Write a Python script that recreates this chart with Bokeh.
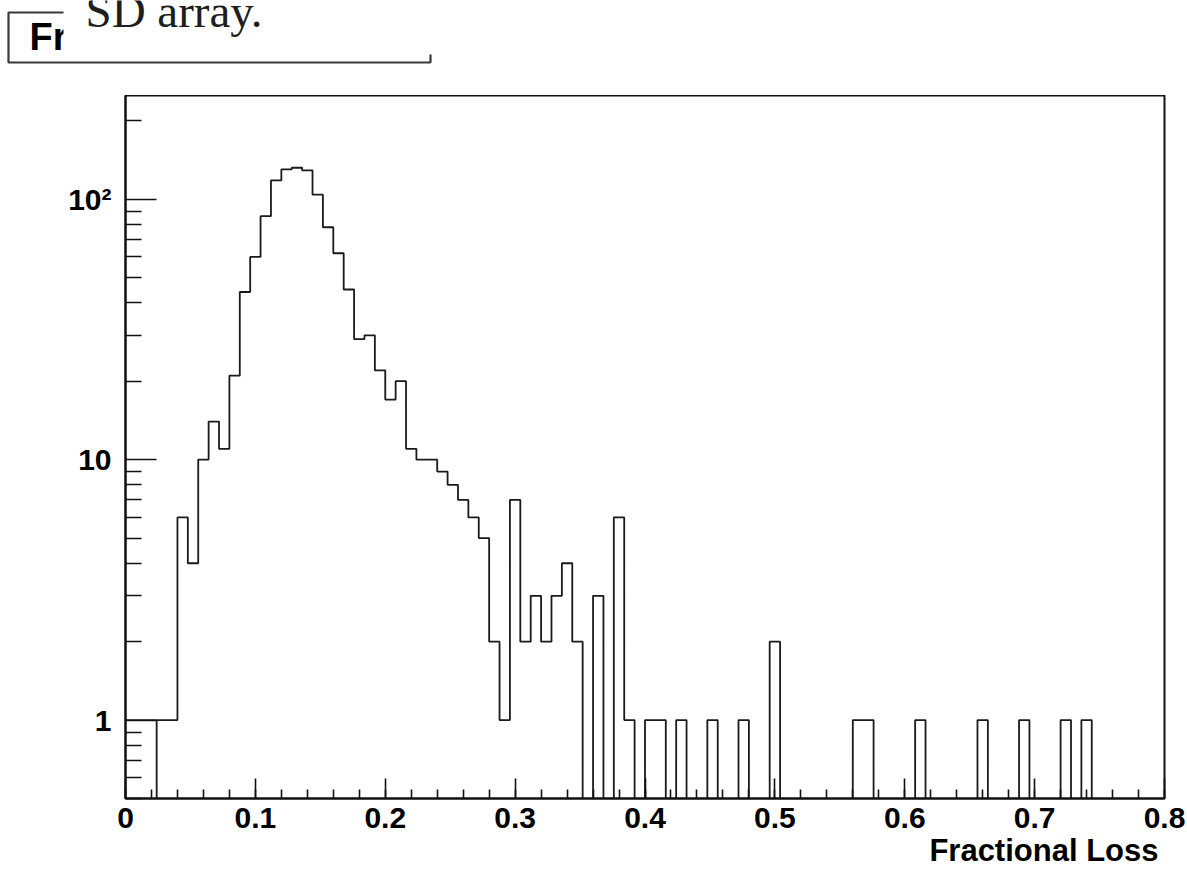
import numpy as np
from bokeh.plotting import figure
from bokeh.models import Range1d, FixedTicker, Title
from bokeh.embed import file_html
from bokeh.resources import INLINE
from bokeh.core.properties import value

# ---------------- data ----------------
bin_lo = 0.0
bin_hi = 0.8
n_bins = 100
counts = [
    1, 1, 1, 1, 1, 6, 4, 10, 14, 11,
    21, 44, 60, 86, 118, 130, 132, 129, 104, 78,
    62, 45, 29, 30, 22, 17, 20, 11, 10, 10,
    9, 8, 7, 6, 5, 2, 1, 7, 2, 3,
    2, 3, 4, 2, 0, 3, 0, 6, 1, 0,
    1, 1, 0, 1, 0, 0, 1, 0, 0, 1,
    0, 0, 2, 0, 0, 0, 0, 0, 0, 0,
    1, 1, 0, 0, 0, 0, 1, 0, 0, 0,
    0, 0, 1, 0, 0, 0, 1, 0, 0, 0,
    1, 0, 1, 0, 0, 0, 0, 0, 0, 0,
]
drop_edges = [0.024]
x_ticks = [0.0, 0.1, 0.2, 0.3, 0.4, 0.5, 0.6, 0.7, 0.8]
x_tick_labels = ["0", "0.1", "0.2", "0.3", "0.4", "0.5", "0.6", "0.7", "0.8"]
y_ticks = [1, 10, 100]
y_tick_labels = ["1", "10", "10²"]
x_title = "Fractional Loss"
header_title = "Fr"
overlay_text = "SD array."

# ---------------- layout ----------------
W, H = 1187, 871
HEAD_H = 95
MAIN_H = H - HEAD_H
BORDER_L, BORDER_R, BORDER_B = 125, 23, 73
Y_MIN, Y_MAX = 0.5, 250.0
FONT = "Liberation Sans"
INK = "#111111"

edges = np.linspace(bin_lo, bin_hi, n_bins + 1)
cnt = np.array(counts, dtype=float)
floor_val = Y_MIN * 0.5
plot_y = np.where(cnt > 0, cnt, floor_val)
step_x = np.append(edges[:-1], edges[-1])
step_y = np.append(plot_y, plot_y[-1])

p = figure(width=W, height=MAIN_H, title=None,
           x_range=Range1d(bin_lo, bin_hi), y_range=Range1d(Y_MIN, Y_MAX),
           y_axis_type="log", output_backend="svg", toolbar_location=None,
           min_border_left=BORDER_L, min_border_right=BORDER_R,
           min_border_top=0, min_border_bottom=BORDER_B)
p.grid.visible = False
p.outline_line_color = INK
p.outline_line_width = 2
p.background_fill_color = "white"
p.border_fill_color = "white"

p.step(step_x, step_y, mode="after", line_color="#1a1a1a", line_width=1.8)
drop_vals = [plot_y[int(round((d - bin_lo) / (edges[1] - edges[0])))] for d in drop_edges]
p.segment(x0=drop_edges, y0=[floor_val] * len(drop_edges), x1=drop_edges, y1=drop_vals,
          line_color="#1a1a1a", line_width=1.8)

# x axis
minor_x = [round(0.02 * i, 4) for i in range(41)]
p.xaxis.ticker = FixedTicker(ticks=x_ticks, minor_ticks=minor_x)
p.xaxis.major_label_overrides = {t: l for t, l in zip(x_ticks, x_tick_labels)}
p.xaxis.major_tick_in = 20
p.xaxis.major_tick_out = 0
p.xaxis.minor_tick_in = 9
p.xaxis.minor_tick_out = 0
p.xaxis.major_label_standoff = 9

# y axis
minor_y = []
for dec in [0.1, 1, 10, 100]:
    for m in range(2, 10):
        minor_y.append(round(dec * m, 4))
p.yaxis.ticker = FixedTicker(ticks=y_ticks, minor_ticks=minor_y)
p.yaxis.major_label_overrides = {t: l for t, l in zip(y_ticks, y_tick_labels)}
p.yaxis.major_tick_in = 31
p.yaxis.major_tick_out = 0
p.yaxis.minor_tick_in = 16
p.yaxis.minor_tick_out = 0
p.yaxis.major_label_standoff = 14

for ax in (p.xaxis, p.yaxis):
    ax.axis_line_color = INK
    ax.axis_line_width = 2
    ax.major_tick_line_color = INK
    ax.major_tick_line_width = 1.6
    ax.minor_tick_line_color = INK
    ax.minor_tick_line_width = 1.6
    ax.major_label_text_font = FONT
    ax.major_label_text_font_style = "bold"
    ax.major_label_text_font_size = "30px"
    ax.major_label_text_color = "black"

# x axis title, right aligned under the frame
p.add_layout(Title(text=x_title, align="right", offset=6, standoff=0,
                   text_font=FONT, text_font_style="bold",
                   text_font_size="31px", text_color="black"), "below")

# ---------------- header (clipped title box), separate root ----------------
h = figure(width=W, height=HEAD_H, title=None,
           x_range=Range1d(0, W), y_range=Range1d(HEAD_H, 0),
           x_axis_location=None, y_axis_location=None,
           output_backend="svg", toolbar_location=None, min_border=0)
h.grid.visible = False
h.outline_line_color = None
h.quad(left=[8], right=[430], top=[12], bottom=[62], fill_color=None,
       line_color="#3a3a3a", line_width=2.2)
h.text(x=[29], y=[36], text=[header_title], text_font=value(FONT),
       text_font_style="bold", text_font_size="38px", text_color="black",
       text_baseline="alphabetic")
h.quad(left=[63], right=[445], top=[-5], bottom=[54], fill_color="white",
       line_color=None)
h.text(x=[85], y=[10], text=[overlay_text], text_font=value("Liberation Serif"),
       text_font_size="47px", text_color="#1e1e1e", text_baseline="alphabetic")

open("out.html", "w").write(file_html([h, p], INLINE))
